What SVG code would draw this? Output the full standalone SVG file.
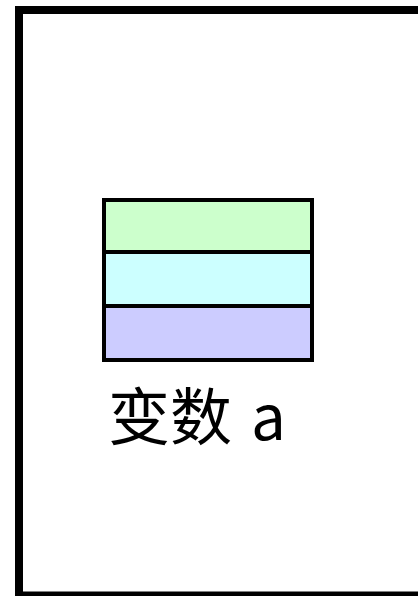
<svg xmlns="http://www.w3.org/2000/svg" width="418" height="596" viewBox="0 0 418 596">
<style>
.frame{fill:none;stroke:#000;stroke-width:8}
.cell{stroke:#000;stroke-width:4}
.label{font-family:"Noto Sans CJK SC","Noto Sans",sans-serif;font-size:62px;fill:#000;word-spacing:5px}
</style>
<rect width="418" height="596" fill="#fff"/>
<g id="frame"><rect class="frame" x="19" y="10" width="420" height="585.5"/></g>
<g id="variable-a">
<rect class="cell" x="104" y="200" width="208" height="52" fill="#ccffcc"/>
<rect class="cell" x="104" y="252" width="208" height="54" fill="#ccffff"/>
<rect class="cell" x="104" y="306" width="208" height="54" fill="#ccccff"/>
<text class="label" x="108" y="440">变数 a</text>
</g>
<g id="connectors"/>
</svg>
